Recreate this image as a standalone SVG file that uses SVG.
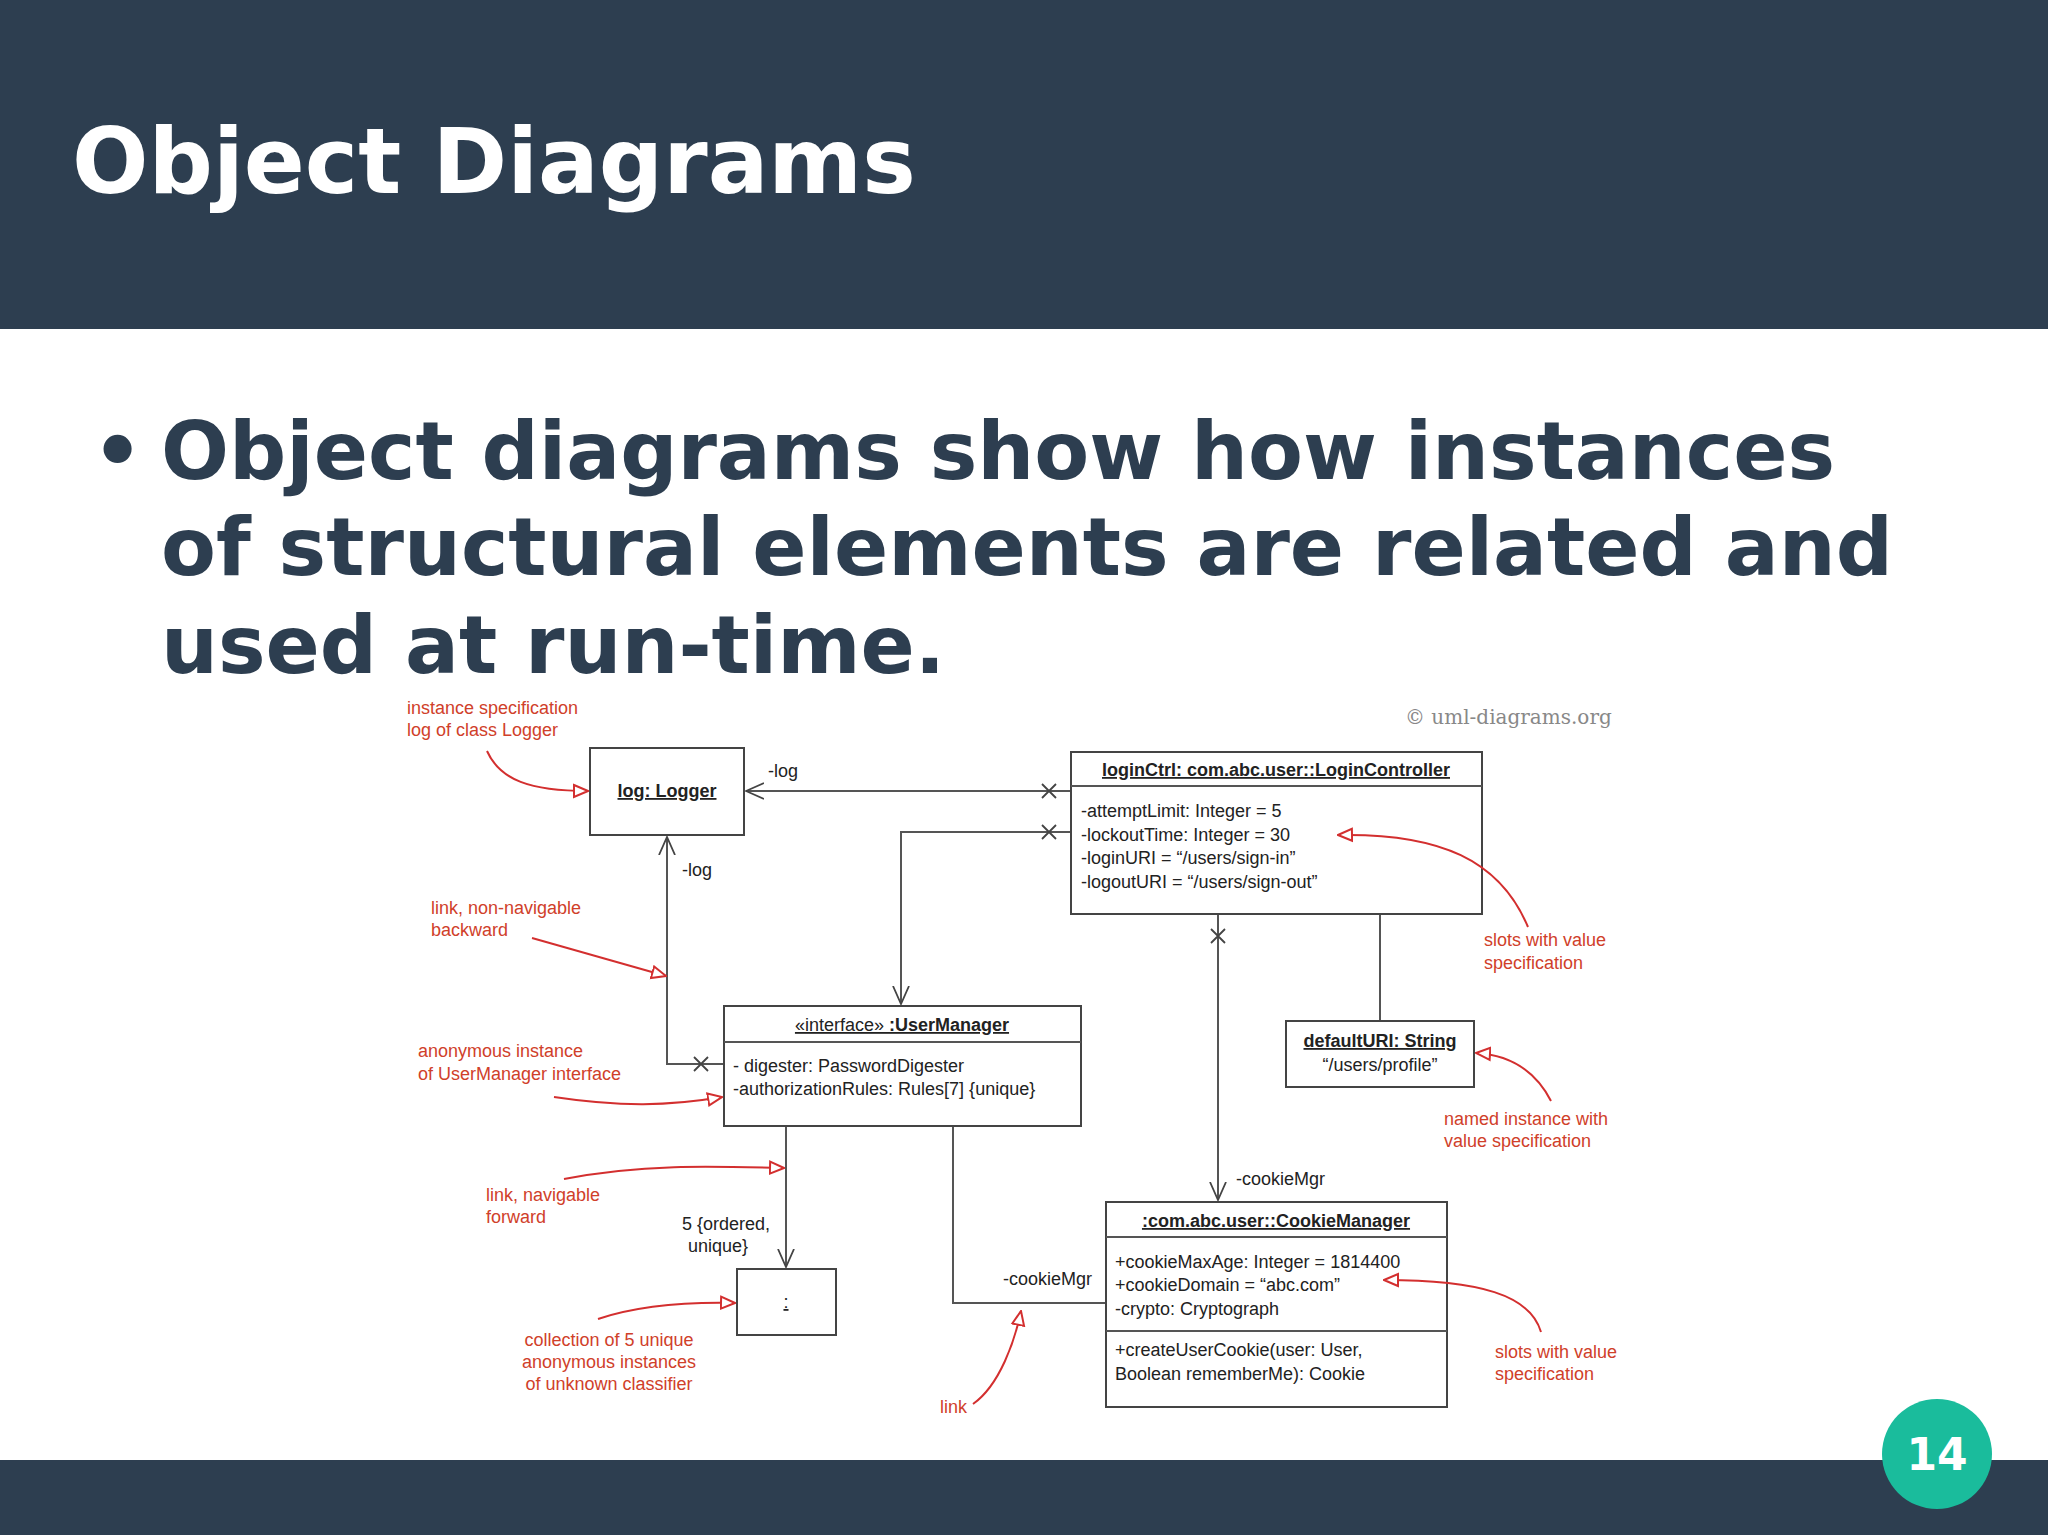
<svg xmlns="http://www.w3.org/2000/svg" width="2048" height="1535" viewBox="0 0 2048 1535">
<style>
.box{fill:#fff;stroke:#444;stroke-width:2}
.ln{fill:none;stroke:#555;stroke-width:2}
.t{font-family:"Liberation Sans",Arial,sans-serif;font-size:18px;fill:#222}
.b{font-weight:bold;text-decoration:underline}
.r{font-family:"Liberation Sans",Arial,sans-serif;font-size:18px;fill:#d0402a}
.rc{fill:none;stroke:#d32f2f;stroke-width:2}
.x{stroke:#444;stroke-width:1.8}
</style>
<defs>
<marker id="open" viewBox="0 0 20 20" refX="18" refY="10" markerWidth="20" markerHeight="20" markerUnits="userSpaceOnUse" orient="auto"><path d="M0,2 L18,10 L0,18" fill="none" stroke="#444" stroke-width="1.8"/></marker>
<marker id="tri" viewBox="0 0 16 16" refX="15" refY="8" markerWidth="16" markerHeight="16" markerUnits="userSpaceOnUse" orient="auto"><path d="M1,2 L15,8 L1,14 Z" fill="#fff" stroke="#d32f2f" stroke-width="2"/></marker>
</defs>
<rect x="0" y="0" width="2048" height="329" fill="#2d3e50"/>
<text x="72" y="193" font-family="DejaVu Sans,sans-serif" font-weight="bold" font-size="90" fill="#fff">Object Diagrams</text>
<g font-family="DejaVu Sans,sans-serif" font-weight="bold" font-size="80" fill="#2d3e50">
<text x="92" y="479">•</text>
<text x="161" y="479">Object diagrams show how instances</text>
<text x="161" y="575">of structural elements are related and</text>
<text x="161" y="673">used at run-time.</text>
</g>
<rect x="0" y="1460" width="2048" height="75" fill="#2d3e50"/>
<circle cx="1937" cy="1454" r="55" fill="#1abc9c"/>
<text x="1937" y="1470" text-anchor="middle" font-family="DejaVu Sans,sans-serif" font-weight="bold" font-size="44" fill="#fff">14</text>
<text x="1405" y="724" font-family="DejaVu Serif,serif" font-size="20" fill="#888">© uml-diagrams.org</text>

<g id="connectors">
<path class="ln" d="M1071,791 H746" marker-end="url(#open)"/>
<path class="ln" d="M1071,832 H901 V1004" marker-end="url(#open)"/>
<path class="ln" d="M724,1064 H667 V837" marker-end="url(#open)"/>
<path class="ln" d="M1218,914 V1200" marker-end="url(#open)"/>
<path class="ln" d="M1380,914 V1021"/>
<path class="ln" d="M786,1126 V1267" marker-end="url(#open)"/>
<path class="ln" d="M953,1126 V1303 H1106"/>
<path class="x" d="M1042,784 L1056,798 M1056,784 L1042,798 M1042,825 L1056,839 M1056,825 L1042,839 M694,1057 L708,1071 M708,1057 L694,1071 M1211,929 L1225,943 M1225,929 L1211,943"/>
<text class="t" x="768" y="777">-log</text>
<text class="t" x="682" y="876">-log</text>
<text class="t" x="1236" y="1185">-cookieMgr</text>
<text class="t" x="1003" y="1285">-cookieMgr</text>
<text class="t" x="682" y="1230">5 {ordered,</text>
<text class="t" x="688" y="1252">unique}</text>
</g>

<g id="logger">
<rect class="box" x="590" y="748" width="154" height="87"/>
<text class="t b" x="667" y="797" text-anchor="middle">log: Logger</text>
</g>
<g id="loginCtrl">
<rect class="box" x="1071" y="752" width="411" height="162"/>
<line class="ln" x1="1071" y1="786" x2="1482" y2="786"/>
<text class="t b" x="1276" y="776" text-anchor="middle">loginCtrl: com.abc.user::LoginController</text>
<text class="t" x="1081" y="817">-attemptLimit: Integer = 5</text>
<text class="t" x="1081" y="841">-lockoutTime: Integer = 30</text>
<text class="t" x="1081" y="864">-loginURI = “/users/sign-in”</text>
<text class="t" x="1081" y="888">-logoutURI = “/users/sign-out”</text>
</g>
<g id="userManager">
<rect class="box" x="724" y="1006" width="357" height="120"/>
<line class="ln" x1="724" y1="1042" x2="1081" y2="1042"/>
<text class="t" x="902" y="1031" text-anchor="middle" text-decoration="underline">«interface» <tspan font-weight="bold">:UserManager</tspan></text>
<text class="t" x="733" y="1072">- digester: PasswordDigester</text>
<text class="t" x="733" y="1095">-authorizationRules: Rules[7] {unique}</text>
</g>
<g id="defaultURI">
<rect class="box" x="1286" y="1021" width="188" height="66"/>
<text class="t b" x="1380" y="1047" text-anchor="middle">defaultURI: String</text>
<text class="t" x="1380" y="1071" text-anchor="middle">“/users/profile”</text>
</g>
<g id="cookieManager">
<rect class="box" x="1106" y="1202" width="341" height="205"/>
<line class="ln" x1="1106" y1="1237" x2="1447" y2="1237"/>
<line class="ln" x1="1106" y1="1331" x2="1447" y2="1331"/>
<text class="t b" x="1276" y="1227" text-anchor="middle">:com.abc.user::CookieManager</text>
<text class="t" x="1115" y="1268">+cookieMaxAge: Integer = 1814400</text>
<text class="t" x="1115" y="1291">+cookieDomain = “abc.com”</text>
<text class="t" x="1115" y="1315">-crypto: Cryptograph</text>
<text class="t" x="1115" y="1356">+createUserCookie(user: User,</text>
<text class="t" x="1115" y="1380">Boolean rememberMe): Cookie</text>
</g>
<g id="collection">
<rect class="box" x="737" y="1269" width="99" height="66"/>
<text class="t" x="786" y="1308" text-anchor="middle" text-decoration="underline">:</text>
</g>

<g id="annotations">
<text class="r" x="407" y="714">instance specification</text>
<text class="r" x="407" y="736">log of class Logger</text>
<path class="rc" d="M487,751 C500,780 530,791 588,791" marker-end="url(#tri)"/>
<text class="r" x="431" y="914">link, non-navigable</text>
<text class="r" x="431" y="936">backward</text>
<path class="rc" d="M532,938 L666,976" marker-end="url(#tri)"/>
<text class="r" x="418" y="1057">anonymous instance</text>
<text class="r" x="418" y="1080">of UserManager interface</text>
<path class="rc" d="M554,1097 C620,1107 670,1106 722,1097" marker-end="url(#tri)"/>
<text class="r" x="486" y="1201">link, navigable</text>
<text class="r" x="486" y="1223">forward</text>
<path class="rc" d="M564,1179 C640,1164 710,1166 784,1168" marker-end="url(#tri)"/>
<text class="r" x="609" y="1346" text-anchor="middle">collection of 5 unique</text>
<text class="r" x="609" y="1368" text-anchor="middle">anonymous instances</text>
<text class="r" x="609" y="1390" text-anchor="middle">of unknown classifier</text>
<path class="rc" d="M598,1319 C640,1305 690,1302 735,1303" marker-end="url(#tri)"/>
<text class="r" x="940" y="1413">link</text>
<path class="rc" d="M973,1404 C1000,1385 1015,1340 1021,1311" marker-end="url(#tri)"/>
<text class="r" x="1484" y="946">slots with value</text>
<text class="r" x="1484" y="969">specification</text>
<path class="rc" d="M1528,927 C1500,860 1440,833 1338,835" marker-end="url(#tri)"/>
<text class="r" x="1444" y="1125">named instance with</text>
<text class="r" x="1444" y="1147">value specification</text>
<path class="rc" d="M1551,1101 C1535,1070 1510,1055 1476,1053" marker-end="url(#tri)"/>
<text class="r" x="1495" y="1358">slots with value</text>
<text class="r" x="1495" y="1380">specification</text>
<path class="rc" d="M1541,1332 C1530,1295 1480,1280 1384,1280" marker-end="url(#tri)"/>
</g>
</svg>
